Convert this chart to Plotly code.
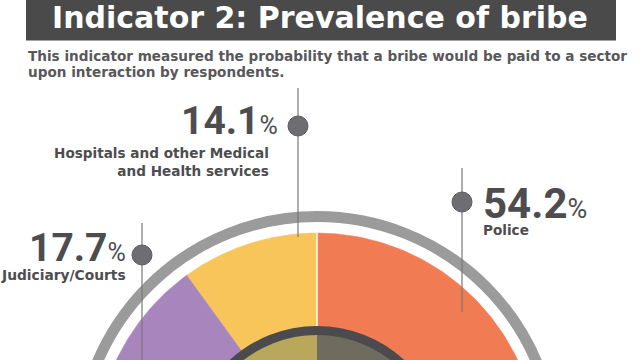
import numpy as np
import plotly.graph_objects as go

# ---- data ----
sectors = ["Police", "Hospitals and other Medical<br>and Health services", "Judiciary/Courts"]
values = [54.2, 14.1, 17.7]
colors = ["#F17B53", "#F8C55B", "#A985BE"]
title = "Indicator 2: Prevalence of bribe"
subtitle_lines = ["This indicator measured the probability that a bribe would be paid to a sector",
                  "upon interaction by respondents."]

# ---- geometry (pixel-like data units, y down) ----
CX, CY = 317, 455
R_OUT, R_IN = 222, 125
DEG_PER_UNIT = 2.55
TXT = "#4D4D4F"

def wedge(a0, a1, r0, r1, n=120):
    t = np.radians(np.linspace(a0, a1, n))
    xo = CX + r1 * np.sin(t); yo = CY - r1 * np.cos(t)
    xi = CX + r0 * np.sin(t[::-1]); yi = CY - r0 * np.cos(t[::-1])
    return np.concatenate([xo, xi, xo[:1]]), np.concatenate([yo, yi, yo[:1]])

fig = go.Figure()

spans = []
spans.append((0, values[0] * DEG_PER_UNIT))
spans.append((-values[1] * DEG_PER_UNIT, 0))
spans.append((-(values[1] + values[2]) * DEG_PER_UNIT, -values[1] * DEG_PER_UNIT))
for (a0, a1), c, name in zip(spans, colors, sectors):
    x, y = wedge(a0, a1, R_IN, R_OUT)
    fig.add_trace(go.Scatter(x=x, y=y, fill="toself", fillcolor=c, mode="lines",
                             line=dict(color=c, width=0.5), hoverinfo="skip", showlegend=False))
fig.add_trace(go.Scatter(x=[CX, CX], y=[CY - R_IN, CY - R_OUT], mode="lines",
                         line=dict(color="white", width=1.5), hoverinfo="skip", showlegend=False))

shapes = []
r = 238.5
shapes.append(dict(type="circle", xref="x", yref="y", x0=CX - r, x1=CX + r, y0=CY - r, y1=CY + r,
                   line=dict(color="#9B9B9B", width=11), layer="below"))
t = np.radians(np.linspace(0, 180, 60))
rr = 122
left = "M %f %f " % (CX, CY - rr) + " ".join("L %f %f" % (CX - rr * np.sin(a), CY - rr * np.cos(a)) for a in t) + " Z"
right = "M %f %f " % (CX, CY - rr) + " ".join("L %f %f" % (CX + rr * np.sin(a), CY - rr * np.cos(a)) for a in t) + " Z"
shapes.append(dict(type="path", xref="x", yref="y", path=left, fillcolor="#B9A75B", line=dict(width=0)))
shapes.append(dict(type="path", xref="x", yref="y", path=right, fillcolor="#6F6B5E", line=dict(width=0)))
r = 124.5
shapes.append(dict(type="circle", xref="x", yref="y", x0=CX - r, x1=CX + r, y0=CY - r, y1=CY + r,
                   line=dict(color="#4B4B4D", width=9)))
shapes.append(dict(type="rect", xref="x", yref="y", x0=26, x1=616, y0=-2, y1=40.5,
                   fillcolor="#4A4A4A", line=dict(width=0)))

leaders = [(298, 88, 237, 126), (142, 223, 365, 255), (462, 168, 312, 202)]
for lx, y0, y1, dy in leaders:
    fig.add_trace(go.Scatter(x=[lx, lx], y=[y0, y1], mode="lines",
                             line=dict(color="#77777A", width=1.2), hoverinfo="skip", showlegend=False))
    fig.add_trace(go.Scatter(x=[lx], y=[dy], mode="markers",
                             marker=dict(size=20, color="#6E6E72", line=dict(color="#5C5C60", width=1)),
                             hoverinfo="skip", showlegend=False))

F = "Roboto"
FW = "DejaVu Sans"
ann = []
ann.append(dict(x=320, y=17, text="<b>%s</b>" % title, showarrow=False, xanchor="center", yanchor="middle",
                font=dict(family=FW, size=30, color="white")))
for i, line in enumerate(subtitle_lines):
    ann.append(dict(x=26, y=56 + 16 * i, text="<b>%s</b>" % line, showarrow=False, xanchor="left",
                    yanchor="middle", font=dict(family=FW, size=13.6, color="#58585B")))

def pct(v, s=25):
    return "<b>%s</b><span style='font-size:%dpx'>%%</span>" % (v, s)

ann.append(dict(x=280, y=121, text=pct(values[1]), showarrow=False, xanchor="right", yanchor="middle",
                font=dict(family=F, size=39, color=TXT)))
ann.append(dict(x=271, y=162, text="<b>Hospitals and other Medical</b><br><b>and Health services</b>",
                showarrow=False, xanchor="right", yanchor="middle", align="right",
                font=dict(family=FW, size=13.6, color=TXT)))
ann.append(dict(x=128, y=248, text=pct(values[2]), showarrow=False, xanchor="right", yanchor="middle",
                font=dict(family=F, size=39, color=TXT)))
ann.append(dict(x=128, y=275, text="<b>Judiciary/Courts</b>", showarrow=False, xanchor="right",
                yanchor="middle", font=dict(family=FW, size=13.8, color=TXT)))
ann.append(dict(x=481, y=203, text=pct(values[0], 27), showarrow=False, xanchor="left", yanchor="middle",
                font=dict(family=F, size=42, color=TXT)))
ann.append(dict(x=481, y=230, text="<b>Police</b>", showarrow=False, xanchor="left",
                yanchor="middle", font=dict(family=FW, size=13.6, color=TXT)))

fig.update_layout(width=640, height=360, margin=dict(l=0, r=0, t=0, b=0),
                  paper_bgcolor="white", plot_bgcolor="white",
                  xaxis=dict(range=[0, 640], visible=False, fixedrange=True),
                  yaxis=dict(range=[360, 0], visible=False, fixedrange=True),
                  shapes=shapes, annotations=ann, showlegend=False)
fig.write_html("out.html", config={"displayModeBar": False},
               post_script="document.body.style.margin='0';document.body.style.overflow='hidden';")
